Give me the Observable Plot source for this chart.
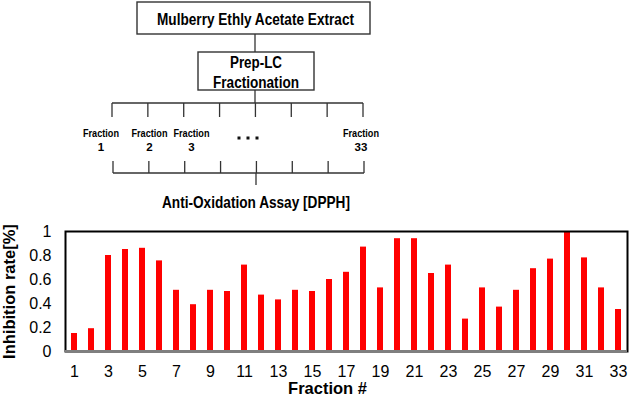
<!DOCTYPE html>
<html>
<head>
<meta charset="utf-8">
<script src="https://cdn.jsdelivr.net/npm/d3@7"></script>
<script src="https://cdn.jsdelivr.net/npm/@observablehq/plot@0.6"></script>
<style>
  html, body { margin: 0; padding: 0; background: #fff; }
  #wrap { width: 638px; }
  svg { display: block; }
</style>
</head>
<body>
<div id="wrap"></div>
<script>
// ---- Data ----
const fractions = d3.range(1, 34);
const inhibition = [0.15, 0.19, 0.80, 0.85, 0.86, 0.755, 0.51, 0.39, 0.51, 0.50,
                    0.72, 0.47, 0.43, 0.51, 0.50, 0.60, 0.66, 0.87, 0.53, 0.94,
                    0.94, 0.65, 0.72, 0.27, 0.53, 0.37, 0.51, 0.69, 0.77, 1.00,
                    0.78, 0.53, 0.35];
const xTicks = [1, 3, 5, 7, 9, 11, 13, 15, 17, 19, 21, 23, 25, 27, 29, 31, 33];
const yTicks = [0, 0.2, 0.4, 0.6, 0.8, 1];
const yLabel = "Inhibition rate[%]";
const xLabel = "Fraction #";

// Flow diagram texts
const topBoxText = "Mulberry Ethly Acetate Extract";
const midBoxText = ["Prep-LC", "Fractionation"];
const fractionLabels = [["Fraction", "1"], ["Fraction", "2"], ["Fraction", "3"], ["Fraction", "33"]];
const assayText = "Anti-Oxidation Assay [DPPH]";

const data = fractions.map((f, i) => ({fraction: f, value: inhibition[i]}));
const FONT = "'Liberation Sans', Arial, Helvetica, sans-serif";

// ---- Flow diagram (layout, not data) ----
const dg = d3.select("#wrap").append("svg")
  .attr("width", 638).attr("height", 215)
  .attr("font-family", FONT);
const lineColor = "#333";
function line(x1, y1, x2, y2) {
  dg.append("line").attr("x1", x1).attr("y1", y1).attr("x2", x2).attr("y2", y2)
    .attr("stroke", lineColor).attr("stroke-width", 1.3);
}
dg.append("rect").attr("x", 137).attr("y", 2).attr("width", 233).attr("height", 32)
  .attr("fill", "none").attr("stroke", lineColor).attr("stroke-width", 1.4);
dg.append("text").attr("x", 255.5).attr("y", 19).attr("text-anchor", "middle")
  .attr("dominant-baseline", "central").attr("font-weight", "bold").attr("font-size", 16.5)
  .attr("textLength", 197).attr("lengthAdjust", "spacingAndGlyphs").text(topBoxText);
line(255, 34, 255, 52);
dg.append("rect").attr("x", 198).attr("y", 52).attr("width", 116).attr("height", 38)
  .attr("fill", "none").attr("stroke", lineColor).attr("stroke-width", 1.4);
dg.append("text").attr("x", 256).attr("y", 62.5).attr("text-anchor", "middle")
  .attr("dominant-baseline", "central").attr("font-weight", "bold").attr("font-size", 16)
  .attr("textLength", 52).attr("lengthAdjust", "spacingAndGlyphs").text(midBoxText[0]);
dg.append("text").attr("x", 256).attr("y", 82).attr("text-anchor", "middle")
  .attr("dominant-baseline", "central").attr("font-weight", "bold").attr("font-size", 16)
  .attr("textLength", 86).attr("lengthAdjust", "spacingAndGlyphs").text(midBoxText[1]);
line(255, 90, 255, 103);
const bx = d3.range(8).map(i => 112 + i * (251 / 7));
line(bx[0], 103, bx[7], 103);
bx.forEach(x => line(x, 103, x, 117));
const labX = [101, 149.5, 191.5, 361];
fractionLabels.forEach((l, i) => {
  dg.append("text").attr("x", labX[i]).attr("y", 133).attr("text-anchor", "middle")
    .attr("dominant-baseline", "central").attr("font-weight", "bold").attr("font-size", 11.5)
    .attr("textLength", 36).attr("lengthAdjust", "spacingAndGlyphs").text(l[0]);
  dg.append("text").attr("x", labX[i]).attr("y", 147).attr("text-anchor", "middle")
    .attr("dominant-baseline", "central").attr("font-weight", "bold").attr("font-size", 11.5).text(l[1]);
});
[239, 248, 257].forEach(x => dg.append("rect").attr("x", x - 1.5).attr("y", 136.5)
  .attr("width", 3).attr("height", 3).attr("fill", "#111"));
bx.forEach((x, i) => line(x + 1, 161, x + 1, 173));
line(bx[0] + 1, 173, bx[7] + 1, 173);
line(256, 173, 256, 185);
dg.append("text").attr("x", 256).attr("y", 202).attr("text-anchor", "middle")
  .attr("dominant-baseline", "central").attr("font-weight", "bold").attr("font-size", 16.5)
  .attr("textLength", 188).attr("lengthAdjust", "spacingAndGlyphs").text(assayText);

// ---- Bar chart ----
const chart = Plot.plot({
  width: 638,
  height: 190,
  marginTop: 16,
  marginBottom: 54,
  marginLeft: 65,
  marginRight: 11,
  style: {fontFamily: FONT, fontSize: "16px", color: "#000", background: "#fff"},
  x: {type: "band", domain: fractions, paddingInner: 0.64, paddingOuter: 0.3, label: null},
  y: {domain: [0, 1], label: null},
  marks: [
    Plot.barY(data, {x: "fraction", y: "value", fill: "#ff0000"}),
    Plot.frame({stroke: "#000", strokeWidth: 2}),
    Plot.ruleY([0], {stroke: "#7f7f7f", strokeWidth: 3}),
    Plot.axisX({ticks: xTicks, tickSize: 0, tickPadding: 14, label: null, fontSize: 16}),
    Plot.axisY({ticks: yTicks, tickSize: 0, tickPadding: 14, tickFormat: d => String(d), label: null, fontSize: 16}),
    Plot.text([yLabel], {frameAnchor: "left", textAnchor: "middle", rotate: -90, dx: -56, text: d => d,
      fontWeight: "bold", fontSize: 16.5, fill: "#000"}),
    Plot.text([xLabel], {frameAnchor: "bottom", textAnchor: "middle", dy: 42, dx: -19, text: d => d,
      fontWeight: "bold", fontSize: 16.5, fill: "#000"})
  ]
});
document.getElementById("wrap").appendChild(chart);
</script>
</body>
</html>
